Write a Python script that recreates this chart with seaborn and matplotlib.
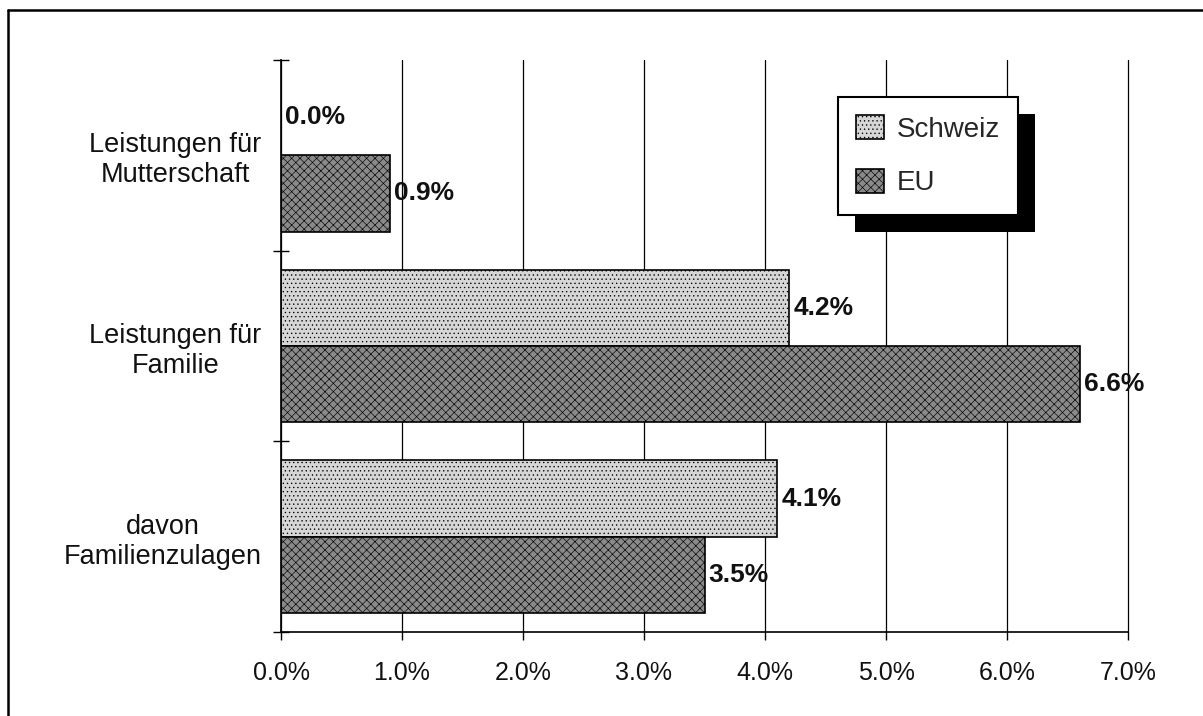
import matplotlib
matplotlib.use("Agg")
import matplotlib.pyplot as plt
from matplotlib.lines import Line2D
from matplotlib.patches import Rectangle
from matplotlib.ticker import FuncFormatter, FixedLocator
import seaborn as sns
import pandas as pd

# Anteile der Sozialleistungen (in % der Gesamtleistungen)
categories = ["Leistungen für\nMutterschaft", "Leistungen für\nFamilie", "davon\nFamilienzulagen"]
regions = ["Schweiz", "EU"]
schweiz = [0.0, 4.2, 4.1]
eu = [0.9, 6.6, 3.5]
x_ticks = [0, 1, 2, 3, 4, 5, 6, 7]

df = pd.DataFrame({
    "Kategorie": categories * 2,
    "Region": [regions[0]] * len(categories) + [regions[1]] * len(categories),
    "Anteil": schweiz + eu,
})

sns.set_style("white")
plt.rcParams["font.family"] = ["Liberation Sans", "DejaVu Sans"]
plt.rcParams["hatch.linewidth"] = 0.45

W, H = 1203, 716
fig = plt.figure(figsize=(W / 100, H / 100), dpi=100)
ax = fig.add_axes([281 / W, 1 - 632 / H, (1128 - 281) / W, (632 - 60) / H])

palette = {"Schweiz": "#d6d6d6", "EU": "#8a8a8a"}
sns.barplot(data=df, x="Anteil", y="Kategorie", hue="Region", order=categories,
            hue_order=regions, orient="h", palette=palette, width=0.8,
            edgecolor="black", linewidth=1.2, saturation=1, legend=False, ax=ax)

hatches = {"Schweiz": "....", "EU": "xxxx"}
for cont, reg in zip(ax.containers, regions):
    for p in cont.patches:
        p.set_hatch(hatches[reg])

ax.set_xlim(x_ticks[0], x_ticks[-1])
ax.set_ylim(len(categories) - 0.5, -0.5)
ax.set_xlabel("")
ax.set_ylabel("")

# x axis
ax.xaxis.set_major_locator(FixedLocator(x_ticks))
ax.xaxis.set_major_formatter(FuncFormatter(lambda v, _: f"{v:.1f}%"))
ax.tick_params(axis="x", which="major", bottom=True, direction="out", length=6, width=1,
               color="black", pad=15, labelsize=18, labelcolor="#111111")

# y axis: tick marks on the category boundaries, labels at the centres
ax.yaxis.set_major_locator(FixedLocator([i - 0.5 for i in range(len(categories) + 1)]))
ax.yaxis.set_major_formatter(FuncFormatter(lambda v, _: ""))
ax.yaxis.set_minor_locator(FixedLocator(list(range(len(categories)))))
ax.set_yticklabels(categories, minor=True)
ax.tick_params(axis="y", which="major", left=True, direction="inout", length=12, width=1,
               color="black")
ax.tick_params(axis="y", which="minor", left=True, length=0, pad=14, labelsize=19.5,
               labelcolor="#111111")
for lbl in ax.get_yticklabels(minor=True):
    lbl.set_multialignment("center")

ax.xaxis.grid(True, color="black", linewidth=0.9)
for gl in ax.get_xgridlines():
    gl.set_clip_on(False)
ax.set_axisbelow(True)
for side in ("top", "right"):
    ax.spines[side].set_visible(False)
for side in ("left", "bottom"):
    ax.spines[side].set_color("black")
    ax.spines[side].set_linewidth(1.2)

# value labels
for cont, vals in zip(ax.containers, [schweiz, eu]):
    ax.bar_label(cont, labels=[f"{v:.1f}%" for v in vals], padding=3,
                 fontsize=19, fontweight="bold", color="#111111")

# legend with solid drop shadow
leg = ax.legend(ax.containers, regions, loc="upper left",
                bbox_to_anchor=(838 / W, 1 - 97 / H), bbox_transform=fig.transFigure,
                borderaxespad=0, fontsize=20, frameon=True, fancybox=False,
                framealpha=1, edgecolor="black", handlelength=1.0, handleheight=0.95,
                handletextpad=0.45, labelspacing=0.95, borderpad=0.65)
leg.get_frame().set_linewidth(1.5)
leg.set_zorder(6)

fig.canvas.draw()
bb = leg.get_window_extent()
shadow = Rectangle((bb.x0 + 17, bb.y0 - 17), bb.width, bb.height, transform=None,
                   facecolor="black", edgecolor="none", zorder=5.5, clip_on=False)
ax.add_artist(shadow)

# outer frame
fig.add_artist(Line2D([8 / W, 8 / W], [0, 1 - 10 / H], transform=fig.transFigure,
                      color="black", linewidth=1.8))
fig.add_artist(Line2D([8 / W, 1], [1 - 10 / H, 1 - 10 / H], transform=fig.transFigure,
                      color="black", linewidth=1.8))

fig.savefig("out.png", dpi=100)
